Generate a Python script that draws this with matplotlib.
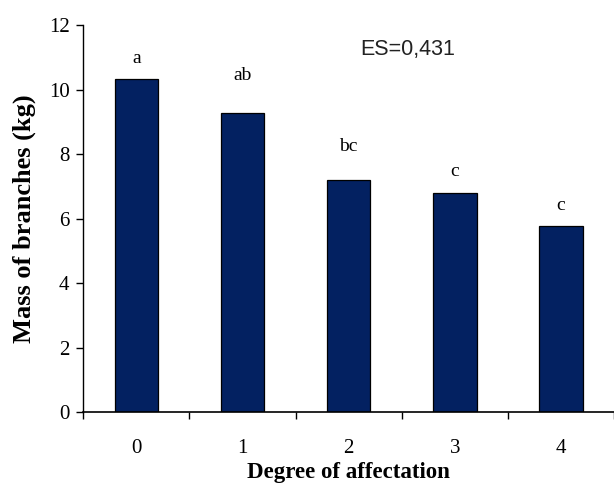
import matplotlib
matplotlib.use('Agg')
import matplotlib.pyplot as plt

# ── Data ─────────────────────────────────────────────
degrees = ['0', '1', '2', '3', '4']
mass = [10.34, 9.28, 7.19, 6.80, 5.77]
letters = ['a', 'ab', 'bc', 'c', 'c']
letter_y = [10.97, 10.43, 8.22, 7.45, 6.42]
es_text = 'ES=0,431'

BAR_COLOR = '#032161'
SERIF = 'Liberation Serif'

fig = plt.figure(figsize=(6.14, 4.86), dpi=100, facecolor='white')
ax = fig.add_axes([0.1357, 0.1516, 0.8643, 0.797])

x = list(range(len(degrees)))
ax.bar(x, mass, width=0.41, color=BAR_COLOR, edgecolor='black', linewidth=0.9, zorder=2)

for xi, lab, ly in zip(x, letters, letter_y):
    ax.text(xi, ly, lab, ha='center', va='center', fontsize=14, family=SERIF)

ax.text(2.556, 11.23, es_text, ha='center', va='center', fontsize=15.5,
        family='Liberation Sans', color='#222222')

ax.set_xlim(-0.5, 4.434)
ax.set_ylim(0, 12)
ax.set_yticks(range(0, 13, 2))
ax.set_xticks(x)
ax.set_xticklabels(degrees)
ax.set_xticks([i - 0.5 for i in range(len(degrees) + 1)], minor=True)
ax.tick_params(axis='x', which='major', length=0, pad=19)
ax.tick_params(axis='x', which='minor', length=5, width=1, direction='out')
ax.tick_params(axis='y', length=5, width=1, direction='out', pad=5)
for t in ax.get_xticklabels() + ax.get_yticklabels():
    t.set_fontfamily(SERIF)
    t.set_fontsize(15)

ax.spines[['top', 'right']].set_visible(False)
ax.spines['left'].set_linewidth(1)
ax.spines['bottom'].set_linewidth(1.2)

ax.set_xlabel('Degree of affectation', fontsize=16.5, fontweight='bold', family=SERIF, labelpad=3)
ax.set_ylabel('Mass of branches (kg)', fontsize=19, fontweight='bold', family=SERIF, labelpad=9)

fig.savefig('out.png', dpi=100, facecolor='white')
plt.close(fig)
